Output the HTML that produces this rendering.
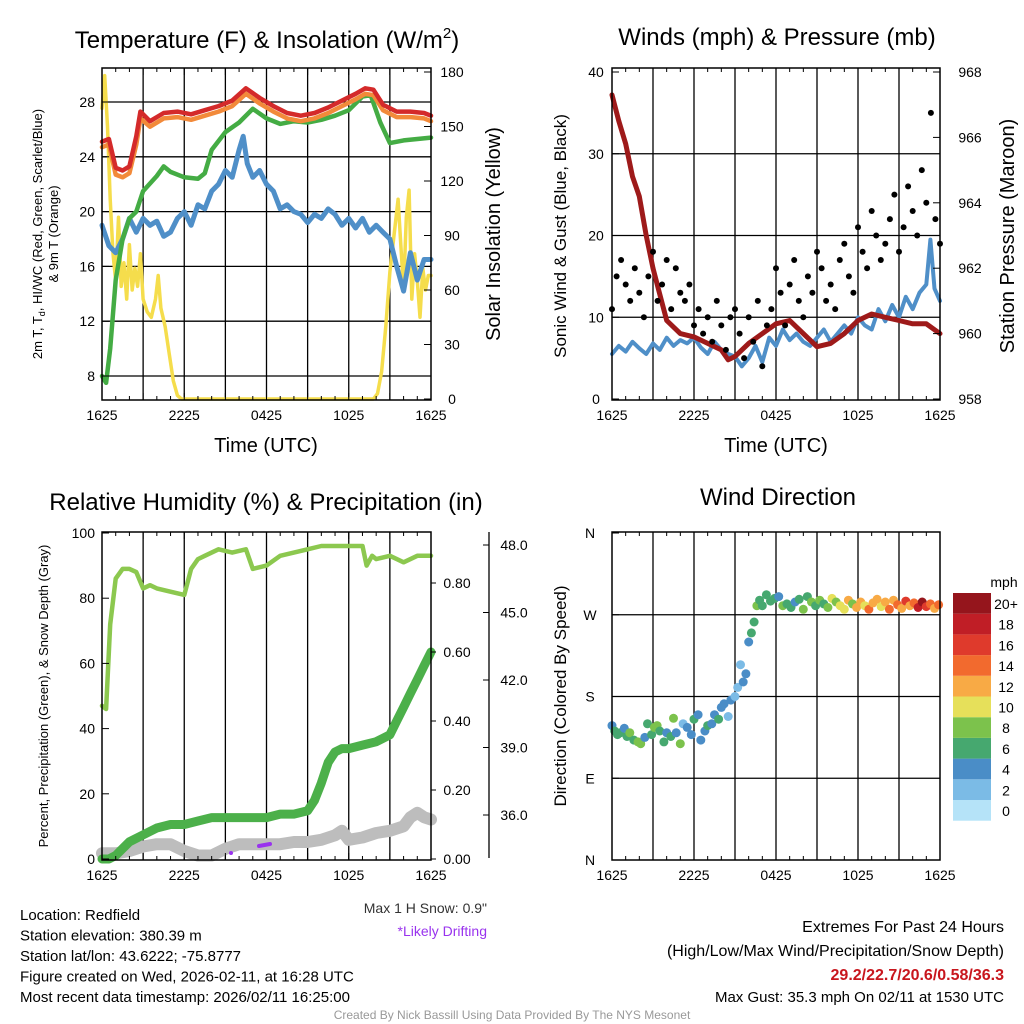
<!DOCTYPE html>
<html><head><meta charset="utf-8"><style>
body{margin:0;background:#fff}
svg{display:block;font-family:"Liberation Sans",sans-serif}
</style></head><body>
<svg id="c" width="1024" height="1024" viewBox="0 0 1024 1024"></svg>
<script>
// ---- Panel 1 data (hours since 1625 UTC) ----
const tempT=[0,0.5,1,1.5,2,2.5,2.8,3.5,4.5,5.5,6.5,7.5,8.5,9.5,10.5,11.5,12.5,13.5,14.5,15.5,16.5,17.5,18.5,19.2,19.8,20.5,21.5,22.5,23.5,24];
const tempV=[25.1,25.3,23.2,23,23.3,25.5,27.3,26.6,27.2,27.3,27.1,27.4,27.7,28.1,29,28.3,27.7,27.2,27,27.2,27.6,28.1,28.6,29,28.9,27.8,27.3,27.3,27.2,27];
const orangeV=[24.7,24.9,22.7,22.5,22.8,24.9,26.8,26.2,26.8,26.9,26.7,27,27.3,27.7,28.6,27.9,27.3,26.8,26.6,26.8,27.2,27.7,28.2,28.6,28.5,27.4,26.9,26.9,26.8,26.6];
const hiwcT=[0,0.3,0.6,1,1.5,2,2.5,3,4,4.5,5,6,7,7.5,8,9,10,11,12,13,14,15,16,17,18,19,19.6,20.3,21,22,23,24];
const hiwcV=[8,7.5,10,15,18,19.5,20,21.5,22.6,23.3,22.9,22.5,22.4,22.8,24.5,25.8,26.5,27.5,26.8,26.4,26.6,26.5,26.7,27,27.4,28.4,28.5,26.5,25,25.2,25.3,25.4];
const dewT=[0,0.5,1,1.5,2,2.5,3,3.5,4,4.5,5,5.5,6,6.5,7,7.5,8,8.5,9,9.5,10,10.3,10.6,11,11.5,12,12.5,13,13.5,14,14.5,15,15.5,16,16.5,17,17.5,18,18.5,19,19.5,20,20.5,21,21.5,22,22.5,23,23.5,24];
const dewV=[19,17.5,17,18,19.5,18.5,19.5,19,19.3,18.2,18.5,19.5,20,19,20.5,20.2,21.5,22,23,22.5,24.5,25.5,23.5,22.5,23,22,21.5,20.2,20.5,20,19.8,19.2,19.8,19.5,20.2,19.8,19,19.5,18.8,19.5,18.5,19,18.5,18,16,14.2,17,15,16.5,16.5];
const solT=[0,0.2,0.4,0.6,0.8,1,1.2,1.4,1.6,1.8,2,2.2,2.4,2.6,2.8,3,3.3,3.6,3.9,4.1,4.3,4.6,4.9,5.2,5.5,5.8,19.8,20.1,20.4,20.7,21,21.3,21.6,21.8,22,22.2,22.4,22.6,22.8,23,23.2,23.4,23.6,23.8,24];
const solV=[160,178,150,110,80,65,100,62,75,55,85,60,72,62,80,55,48,45,55,68,50,40,25,10,2,0,0,3,15,40,70,90,110,85,60,100,115,55,80,65,45,72,60,68,68];
// ---- Panel 2 data ----
const windT=[0,0.5,1,1.5,2,2.5,3,3.5,4,4.5,5,5.5,6,6.5,7,7.5,8,8.5,9,9.5,10,10.5,11,11.5,12,12.5,13,13.5,14,14.5,15,15.5,16,16.5,17,17.5,18,18.5,19,19.5,20,20.5,21,21.5,22,22.5,23,23.3,23.6,24];
const windV=[5.5,6.5,5.8,7,6.2,5.5,6.8,6,7.5,6.5,7.2,6.8,7.5,6.3,5.5,7,6,5.5,5.2,4,5,6.5,4.5,7.5,6.5,8.5,7.2,8,7,6.5,7.5,8.5,7,8,9,8,10,9,8.5,11,9.5,11.5,10,12.5,11,13,14,19.5,13.5,12];
const presT=[0,0.5,1,1.5,2,2.5,3,3.5,4,5,6,7,8,8.5,9,10,11,12,13,14,15,16,17,18,19,20,21,22,23,24];
const presV=[967.3,966.5,965.8,964.8,964.2,963,962,961.2,960.4,960,959.9,959.7,959.5,959.2,959.3,959.7,960,960.3,960.4,960,959.6,959.7,960,960.4,960.6,960.5,960.4,960.3,960.3,960];
const gustV=[11,15,17,14,12,16,13,10,15,18,12,14,17,11,16,13,12,14,9,11,8,10,7,12,9,6,10,11,8,5,10,7,12,4,9,11,16,13,9,14,17,12,10,15,13,18,16,12,14,11,17,19,15,13,21,18,16,23,20,17,19,22,25,18,21,26,23,20,28,24,35,22,19];
// ---- Panel 3 data ----
const rhT=[0,0.3,0.6,1,1.5,2,2.5,3,3.5,4,5,6,6.5,7,7.5,8.5,9.5,10.5,11,12,13,14,15,16,17,18,19,19.3,19.7,20,21,22,23,24];
const rhV=[47,46,72,86,89,89,88,83,84,83,82,81,89,92,93,95,94,95,89,90,93,94,95,96,96,96,96,90,93,92,93,91,93,93];
const precT=[0,0.5,1,1.5,2,3,4,5,6,7,8,9,10,11,12,13,14,15,15.5,16,16.5,17,17.5,18,19,20,21,21.5,22,22.5,23,23.5,24];
const precV=[0,0,0.01,0.03,0.05,0.07,0.09,0.1,0.1,0.11,0.12,0.12,0.12,0.12,0.12,0.13,0.13,0.14,0.17,0.22,0.28,0.31,0.32,0.32,0.33,0.34,0.36,0.4,0.44,0.48,0.52,0.56,0.6];
const snowT=[0,1,2,3,4,5,6,7,8,9,10,11,12,13,14,15,16,17,17.5,18,19,20,21,22,22.5,23,23.5,24];
const snowV=[34.3,34.3,34.4,34.6,34.7,34.7,34.4,34.2,34.2,34.5,34.7,34.7,34.7,34.7,34.8,34.8,34.9,35.1,35.3,34.9,35,35.2,35.3,35.5,35.9,36.1,35.9,35.8];
// ---- Panel 4 data ----
const dirT=[0,0.2,0.4,0.6,0.9,1.1,1.3,1.6,1.9,2.1,2.4,2.6,2.9,3.1,3.3,3.5,3.8,4,4.3,4.5,4.7,5,5.2,5.5,5.8,6,6.3,6.5,6.8,7,7.3,7.5,7.8,8,8.2,8.5,8.7,9,9.2,9.4,9.6,9.8,10,10.2,10.4,10.6,10.8,11,11.3,11.6,11.9,12.2,12.5,12.8,13.1,13.4,13.7,14,14.3,14.6,14.9,15.2,15.5,15.8,16.1,16.4,16.7,17,17.3,17.6,17.9,18.2,18.5,18.8,19.1,19.4,19.7,20,20.3,20.6,20.9,21.2,21.5,21.8,22.1,22.4,22.7,23,23.3,23.6,23.9];
const dirV=[148,142,138,140,145,136,140,132,130,128,135,150,138,146,148,142,130,140,136,156,140,128,150,146,138,155,160,132,142,148,150,160,155,168,172,158,176,180,190,215,196,205,240,250,262,280,286,280,292,285,288,290,280,282,278,284,287,276,290,284,280,286,282,278,288,284,280,276,286,282,278,284,280,276,283,287,279,284,276,286,281,277,285,280,283,278,284,279,282,277,281];
const dirS=[4,6,7,6,5,6,8,7,8,8,4,7,6,8,9,6,7,5,7,8,4,8,3,4,5,6,4,5,4,6,5,4,7,5,4,3,5,2,3,2,4,5,5,6,6,8,6,7,7,6,7,5,8,6,7,5,7,9,7,8,6,8,7,9,10,8,11,10,12,9,13,12,11,14,12,13,10,12,15,13,14,12,16,13,15,18,20,17,14,13,15];
const cbColors=["#b5e3f8","#7bbbe6","#4a8dc7","#46a86f","#7cc24c","#e6e05a","#f8aa45","#f26a2e","#df3a2c","#c01e26","#95151c"];
const cbLabels=["0","2","4","6","8","10","12","14","16","18","20+"];

const NS="http://www.w3.org/2000/svg";
const svg=document.getElementById("c");
function el(tag,attrs,parent,text){const e=document.createElementNS(NS,tag);for(const k in attrs)e.setAttribute(k,attrs[k]);if(text!==undefined)e.textContent=text;(parent||svg).appendChild(e);return e;}
function txt(x,y,s,size,anchor,name,extra){const e=el("text",Object.assign({x:x,y:y,"font-size":size,"text-anchor":anchor||"middle",fill:"#000"},extra||{}),svg,s);


return e;}
function line(pts,stroke,w,name){const e=el("polyline",{points:pts.map(p=>p[0].toFixed(1)+","+p[1].toFixed(1)).join(" "),fill:"none",stroke:stroke,"stroke-width":w,"stroke-linejoin":"round","stroke-linecap":"round"});


return e;}
function dot(x,y,r,fill,name){const e=el("circle",{cx:x.toFixed(1),cy:y.toFixed(1),r:r,fill:fill});


return e;}

function frame(x0,x1,y0,y1,name,hLines,vGrid){
  const g=el("g",{});
  
  
  vGrid.forEach(x=>el("line",{x1:x,x2:x,y1:y0,y2:y1,stroke:"#000","stroke-width":1.3},g));
  hLines.forEach(y=>el("line",{x1:x0,x2:x1,y1:y,y2:y,stroke:"#000","stroke-width":1.3},g));
  return g;
}
function border(x0,x1,y0,y1){el("rect",{x:x0,y:y0,width:x1-x0,height:y1-y0,fill:"none",stroke:"#000","stroke-width":1.5});}
function xTicks(x0,x1,yb,yt){
  const xs=h=>x0+h*(x1-x0)/24;
  for(let h=0;h<=24;h+=1){const L=h%3===0?7:4;el("line",{x1:xs(h),x2:xs(h),y1:yb,y2:yb-L,stroke:"#000"});el("line",{x1:xs(h),x2:xs(h),y1:yt,y2:yt+L,stroke:"#000"});}
  ["1625","2225","0425","1025","1625"].forEach((s,i)=>txt(xs(i*6),yb+20,s,14,"middle","x-tick-label"));
}

// ===== Panel 1 =====
{const X0=102,X1=431,Y0=68,Y1=400;
const xs=h=>X0+h*(X1-X0)/24, yL=v=>102+(28-v)*13.7, yR=v=>399-v*327/180;
const vg=[];for(let h=3;h<24;h+=3)vg.push(xs(h));
frame(X0,X1,Y0,Y1,"temp-grid",[8,12,16,20,24,28].map(yL),vg);
line(solT.map((t,i)=>[xs(t),yR(solV[i])]),"#f5dd4c",3.5,"solar-insolation-line");
line(dewT.map((t,i)=>[xs(t),yL(dewV[i])]),"#4f8fc8",5,"dewpoint-line");
line(hiwcT.map((t,i)=>[xs(t),yL(hiwcV[i])]),"#44ac44",4.5,"hiwc-line");
line(tempT.map((t,i)=>[xs(t),yL(orangeV[i])]),"#f28a3a",4.5,"9m-temp-line");
line(tempT.map((t,i)=>[xs(t),yL(tempV[i])]),"#d42a2a",4.5,"2m-temp-line");
border(X0,X1,Y0,Y1);xTicks(X0,X1,Y1,Y0);
[8,12,16,20,24,28].forEach(v=>{txt(X0-7,yL(v)+5,String(v),14,"end","y-tick-label");el("line",{x1:X0,x2:X0+7,y1:yL(v),y2:yL(v),stroke:"#000"});});
[0,30,60,90,120,150,180].forEach(v=>{txt(X1+21,yR(v)+5,String(v),14,"middle","y2-tick-label");el("line",{x1:X1,x2:X1-7,y1:yR(v),y2:yR(v),stroke:"#000"});});
const t=txt(267,48,"Temperature (F) & Insolation (W/m",24,"middle","panel1-title");el("tspan",{dy:-10,"font-size":15},t,"2");el("tspan",{dy:10},t,")");
txt(266,452,"Time (UTC)",20,"middle","x-axis-title");
txt(0,0,"Solar Insolation (Yellow)",20,"middle","y2-axis-title",{transform:"translate(500,234) rotate(-90)"});
const a=txt(0,0,"2m T, T",13,"middle","y-axis-title",{transform:"translate(42,234) rotate(-90)"});
el("tspan",{"font-size":9,dy:3},a,"d");el("tspan",{dy:-3},a,", HI/WC (Red, Green, Scarlet/Blue)");
txt(0,0,"& 9m T (Orange)",13,"middle","y-axis-title-2",{transform:"translate(58,234) rotate(-90)"});
}
// ===== Panel 2 =====
{const X0=612,X1=940,Y0=68,Y1=400;
const xs=h=>X0+h*(X1-X0)/24, yL=v=>399-v*8.175, yR=p=>399-(p-958)*32.7;
const vg=[];for(let h=3;h<24;h+=3)vg.push(xs(h));
frame(X0,X1,Y0,Y1,"wind-grid",[10,20,30].map(yL),vg);
line(windT.map((t,i)=>[xs(t),yL(windV[i])]),"#4f8fc8",4,"sonic-wind-line");
line(presT.map((t,i)=>[xs(t),yR(presV[i])]),"#9e1a1a",5,"pressure-line");
gustV.forEach((v,i)=>dot(xs(i*24/(gustV.length-1)),yL(v),3,"#000","gust-point"));
border(X0,X1,Y0,Y1);xTicks(X0,X1,Y1,Y0);
[0,10,20,30,40].forEach(v=>{txt(X0-16,yL(v)+5,String(v),14,"middle","y-tick-label");el("line",{x1:X0,x2:X0+7,y1:yL(v),y2:yL(v),stroke:"#000"});});
[958,960,962,964,966,968].forEach(v=>{txt(X1+30,yR(v)+5,String(v),14,"middle","y2-tick-label");el("line",{x1:X1,x2:X1-7,y1:yR(v),y2:yR(v),stroke:"#000"});});
txt(777,45,"Winds (mph) & Pressure (mb)",24,"middle","panel2-title");
txt(776,452,"Time (UTC)",20,"middle","x-axis-title");
txt(0,0,"Sonic Wind & Gust (Blue, Black)",17,"middle","y-axis-title",{transform:"translate(566,236) rotate(-90)"});
txt(0,0,"Station Pressure (Maroon)",20,"middle","y2-axis-title",{transform:"translate(1014,236) rotate(-90)"});
}
// ===== Panel 3 =====
{const X0=102,X1=431,Y0=532,Y1=860;
const xs=h=>X0+h*(X1-X0)/24, yL=v=>859-v*3.26, yP=v=>859-v*345, yS=s=>815-(s-36)*22.5;
const vg=[];for(let h=3;h<24;h+=3)vg.push(xs(h));
frame(X0,X1,Y0,Y1,"rh-grid",[],vg);
line(snowT.map((t,i)=>[xs(t),yS(snowV[i])]),"#bdbdbd",12,"snow-depth-line");
line(precT.map((t,i)=>[xs(t),yP(precV[i])]),"#4cb04a",9,"precip-line");
line(rhT.map((t,i)=>[xs(t),yL(rhV[i])]),"#8cc84f",4.5,"rh-line");
dot(231,853,2,"#9933ee","drifting-point");
line([[259,846],[270,844]],"#9933ee",4,"drifting-segment");
border(X0,X1,Y0,Y1);xTicks(X0,X1,Y1,Y0);
[0,20,40,60,80,100].forEach(v=>{txt(X0-7,yL(v)+5,String(v),14,"end","y-tick-label");el("line",{x1:X0,x2:X0+7,y1:yL(v),y2:yL(v),stroke:"#000"});});
[0,0.2,0.4,0.6,0.8].forEach(v=>{txt(X1+26,yP(v)+5,v.toFixed(2),14,"middle","precip-tick-label");el("line",{x1:X1,x2:X1+5,y1:yP(v),y2:yP(v),stroke:"#000"});});
el("line",{x1:489,x2:489,y1:532,y2:858,stroke:"#000","stroke-width":1.3});
[36,39,42,45,48].forEach(v=>{txt(514,yS(v)+5,v.toFixed(1),14,"middle","snow-tick-label");el("line",{x1:483,x2:489,y1:yS(v),y2:yS(v),stroke:"#000"});});
txt(266,510,"Relative Humidity (%) & Precipitation (in)",24,"middle","panel3-title");
txt(0,0,"Percent, Precipitation (Green), & Snow Depth (Gray)",13,"middle","y-axis-title",{transform:"translate(48,696) rotate(-90)"});
txt(487,913,"Max 1 H Snow: 0.9\"",14,"end","max-snow-note",{fill:"#333"});
txt(487,936,"*Likely Drifting",14,"end","drifting-note",{fill:"#9933ee"});
}
// ===== Panel 4 =====
{const X0=612,X1=940,Y0=532,Y1=860;
const xs=h=>X0+h*(X1-X0)/24, yD=d=>860-d*327/360;
const vg=[];for(let h=3;h<24;h+=3)vg.push(xs(h));
frame(X0,X1,Y0,Y1,"direction-grid",[90,180,270].map(yD),vg);
const col=s=>cbColors[Math.min(10,Math.floor(s/2))];
dirT.forEach((t,i)=>dot(xs(t),yD(dirV[i]),4.5,col(dirS[i]),"direction-point"));
border(X0,X1,Y0,Y1);xTicks(X0,X1,Y1,Y0);
[["N",0],["E",90],["S",180],["W",270],["N",360]].forEach(([s,d])=>{txt(590,yD(d)+5,s,14,"middle","y-tick-label");el("line",{x1:X0,x2:X0+7,y1:yD(d),y2:yD(d),stroke:"#000"});});
txt(778,505,"Wind Direction",24,"middle","panel4-title");
txt(0,0,"Direction (Colored By Speed)",17,"middle","y-axis-title",{transform:"translate(566,696) rotate(-90)"});
txt(1004,587,"mph",14,"middle","colorbar-title");
cbColors.forEach((c,i)=>{const y=800-i*20.7;const r=el("rect",{x:953,y:y,width:38,height:20.7,fill:c});


txt(1006,y+16,cbLabels[i],14,"middle","colorbar-label");});
}
// ===== Footer =====
["Location: Redfield","Station elevation: 380.39 m","Station lat/lon: 43.6222; -75.8777","Figure created on Wed, 2026-02-11, at 16:28 UTC","Most recent data timestamp: 2026/02/11 16:25:00"].forEach((s,i)=>txt(20,920+i*20.5,s,15,"start","station-info"));
txt(1004,932,"Extremes For Past 24 Hours",16,"end","extremes-title");
txt(1004,956,"(High/Low/Max Wind/Precipitation/Snow Depth)",16,"end","extremes-subtitle");
txt(1004,980,"29.2/22.7/20.6/0.58/36.3",16,"end","extremes-values",{fill:"#c8161d","font-weight":"bold"});
txt(1004,1002,"Max Gust: 35.3 mph On 02/11 at 1530 UTC",15,"end","max-gust-note");
txt(512,1019,"Created By Nick Bassill Using Data Provided By The NYS Mesonet",12,"middle","credit",{fill:"#999"});
</script>
</body></html>
